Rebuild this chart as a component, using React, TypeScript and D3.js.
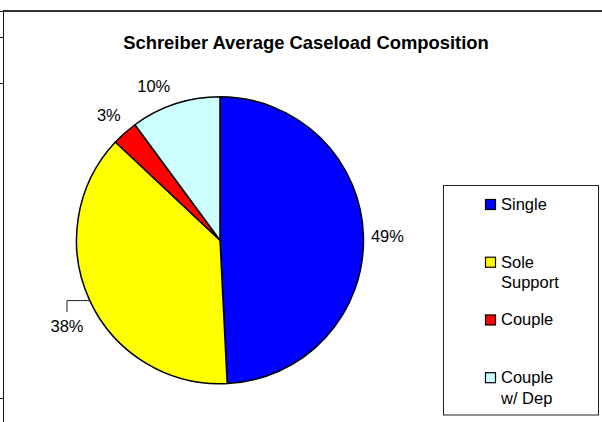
import * as d3 from "d3";

const title = "Schreiber Average Caseload Composition";
const categories = ["Single", "Sole Support", "Couple", "Couple w/ Dep"];
const shares = [49.2, 37.8, 2.9, 10.1];
const legendLines = [["Single"], ["Sole", "Support"], ["Couple"], ["Couple", "w/ Dep"]];

const colors = ["#0000ff", "#ffff00", "#ff0000", "#ccffff"];
const FONT = "'Liberation Sans', Arial, Helvetica, sans-serif";

// hand placed labels in the original (Excel drags them around)
const labelNudge: Record<string, [number, number]> = {
  "Couple w/ Dep": [-14, 5],
  "Sole Support": [-1, 15.5],
};
const leaderLabel = "Sole Support";

export default function App() {
  const width = 602;
  const height = 422;
  const cx = 220;
  const cy = 240.3;
  const r = 143.5;

  const rows = categories.map((c, i) => ({ name: c, value: shares[i], color: colors[i] }));
  const total = d3.sum(rows, (d) => d.value);
  const arcs = d3
    .pie<(typeof rows)[number]>()
    .sort(null)
    .value((d) => d.value)(rows);
  const arc = d3.arc<d3.PieArcDatum<(typeof rows)[number]>>().innerRadius(0).outerRadius(r);
  const fmt = (v: number) => `${Math.round((v / total) * 100)}%`;

  const legendY = d3.scalePoint<string>().domain(categories).range([204.5, 377.7]);

  return (
    <svg
      width={width}
      height={height}
      style={{ position: "absolute", left: 0, top: 0, background: "#fff" }}
      fontFamily={FONT}
    >
      {/* outer chart frame (cropped on the right and bottom) */}
      <line x1={3} x2={width} y1={11} y2={11} stroke="#333" strokeWidth={2} />
      <line x1={3.5} x2={3.5} y1={10} y2={height} stroke="#111" strokeWidth={1} />
      {[11, 37, 83, 398].map((t) => (
        <line key={t} x1={0} x2={3} y1={t + 0.5} y2={t + 0.5} stroke="#111" />
      ))}

      <text x={306} y={49} textAnchor="middle" fontWeight="bold" fontSize={18.4} fill="#000">
        {title}
      </text>

      <g transform={`translate(${cx},${cy})`}>
        {arcs.map((a) => (
          <path key={a.data.name} d={arc(a) ?? ""} fill={a.data.color} stroke="#000" strokeWidth={1.5} strokeLinejoin="round" />
        ))}
        {arcs.map((a) => {
          const mid = (a.startAngle + a.endAngle) / 2;
          const lr = r + 24;
          const [nx, ny] = labelNudge[a.data.name] ?? [0, 0];
          const lx = Math.sin(mid) * lr + nx;
          const ly = -Math.cos(mid) * lr + ny;
          const leader =
            a.data.name === leaderLabel
              ? `M${Math.sin(mid) * r},${-Math.cos(mid) * r}H${lx}V${ly - 14}`
              : null;
          return (
            <g key={a.data.name}>
              {leader && <path d={leader} fill="none" stroke="#222" strokeWidth={1} />}
              <text x={lx} y={ly} dy="0.36em" textAnchor="middle" fontSize={16.5} fill="#000">
                {fmt(a.data.value)}
              </text>
            </g>
          );
        })}
      </g>

      {/* legend */}
      <rect x={443.5} y={185.5} width={155} height={229.5} fill="#fff" stroke="#222" strokeWidth={1} />
      {rows.map((d, i) => {
        const y = legendY(d.name) ?? 0;
        return (
          <g key={d.name}>
            <rect x={485.5} y={y - 5} width={10} height={10} fill={d.color} stroke="#000" strokeWidth={1.2} />
            <text x={501} y={y + 5.5} fontSize={16.5} fill="#000">
              {legendLines[i].map((ln, j) => (
                <tspan key={j} x={501} dy={j === 0 ? 0 : 20.5}>
                  {ln}
                </tspan>
              ))}
            </text>
          </g>
        );
      })}
    </svg>
  );
}
